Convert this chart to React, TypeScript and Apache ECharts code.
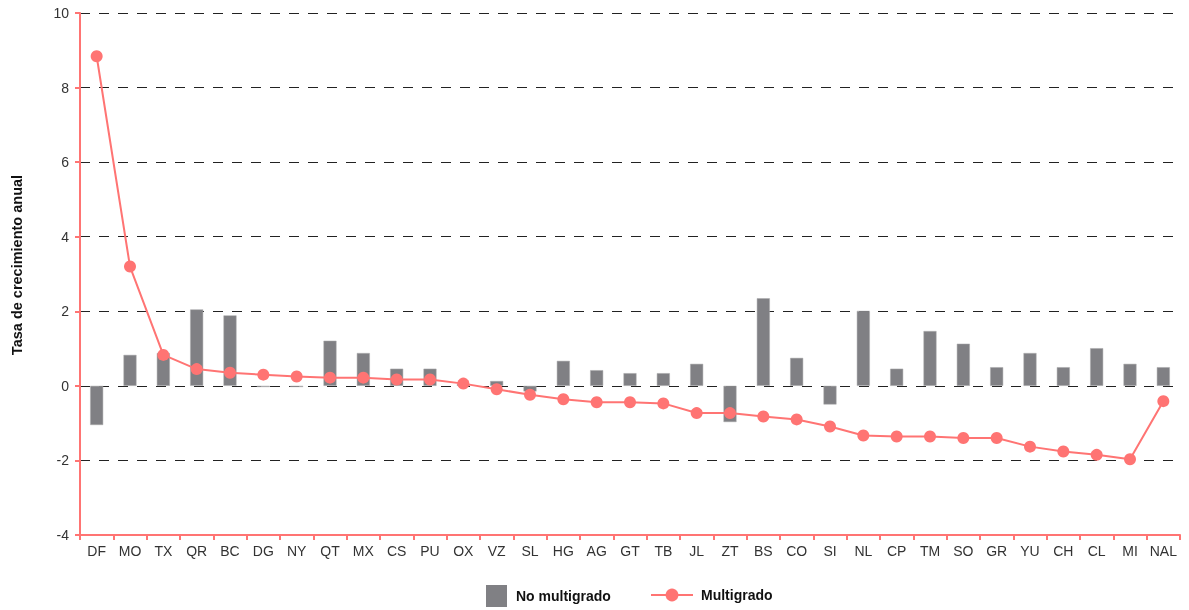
import React, { useEffect, useRef } from "react";
import * as echarts from "echarts";

const categories = ["DF","MO","TX","QR","BC","DG","NY","QT","MX","CS","PU","OX","VZ","SL","HG","AG","GT","TB","JL","ZT","BS","CO","SI","NL","CP","TM","SO","GR","YU","CH","CL","MI","NAL"];
const noMultigrado = [-1.05,0.83,0.88,2.05,1.89,-0.03,-0.03,1.21,0.88,0.46,0.46,0.05,0.13,-0.15,0.67,0.42,0.34,0.34,0.59,-0.97,2.35,0.75,-0.5,2.01,0.46,1.47,1.13,0.5,0.88,0.5,1.01,0.59,0.5];
const multigrado = [8.84,3.2,0.83,0.45,0.35,0.3,0.25,0.22,0.22,0.17,0.17,0.06,-0.09,-0.24,-0.36,-0.44,-0.44,-0.47,-0.73,-0.73,-0.82,-0.9,-1.09,-1.33,-1.36,-1.36,-1.4,-1.4,-1.63,-1.76,-1.85,-1.97,-0.41];
const yTicks = { min: -4, max: 10, interval: 2 };

const RED = "#ff7473";
const GRAY = "#808084";
const FONT = "'Liberation Sans', Arial, sans-serif";

export default function App() {
  const ref = useRef<HTMLDivElement>(null);
  useEffect(() => {
    if (!ref.current) return;
    const chart = echarts.init(ref.current, undefined, { renderer: "svg" });
    const legendText = { fontFamily: FONT, fontSize: 14, fontWeight: "bold", color: "#111" };
    chart.setOption({
      animation: false,
      textStyle: { fontFamily: FONT },
      grid: { left: 80, right: 9, top: 13, bottom: 75 },
      legend: [
        {
          data: [{ name: "No multigrado", icon: "rect", itemStyle: { borderWidth: 0, color: GRAY } }],
          left: 486,
          top: 585,
          padding: 0,
          itemWidth: 21,
          itemHeight: 22,
          itemGap: 10,
          textStyle: { ...legendText, padding: [0, 0, 0, 4] },
        },
        {
          data: ["Multigrado"],
          left: 650,
          top: 588,
          padding: 0,
          itemWidth: 42,
          itemHeight: 16,
          textStyle: { ...legendText, padding: [1, 0, 0, 3] },
        },
      ],
      xAxis: {
        type: "category",
        data: categories,
        boundaryGap: true,
        axisLine: { onZero: false, lineStyle: { color: RED, width: 2 } },
        axisTick: { show: true, length: 5, lineStyle: { color: RED, width: 2 } },
        axisLabel: { color: "#333", fontSize: 14, margin: 9, interval: 0, fontFamily: FONT },
      },
      yAxis: {
        type: "value",
        min: yTicks.min,
        max: yTicks.max,
        interval: yTicks.interval,
        name: "Tasa de crecimiento anual",
        nameLocation: "middle",
        nameGap: 56,
        nameTextStyle: { fontFamily: FONT, fontSize: 14.5, fontWeight: "bold", color: "#111", padding: [0, 0, 0, 18] },
        axisLine: { show: true, lineStyle: { color: RED, width: 2 } },
        axisTick: { show: true, length: 5, lineStyle: { color: RED, width: 2 } },
        axisLabel: { color: "#333", fontSize: 14, margin: 11, fontFamily: FONT },
        splitLine: { show: true, lineStyle: { color: "#222", type: [10, 9], width: 1 } },
      },
      series: [
        {
          name: "No multigrado",
          type: "bar",
          data: noMultigrado,
          barWidth: "39%",
          itemStyle: { color: GRAY, borderColor: "#a8a8ab", borderWidth: 0.5 },
          z: 2,
        },
        {
          name: "Multigrado",
          type: "line",
          data: multigrado,
          symbol: "circle",
          symbolSize: 12,
          lineStyle: { color: RED, width: 2 },
          itemStyle: { color: RED },
          z: 3,
        },
      ],
    });
    return () => chart.dispose();
  }, []);
  return <div ref={ref} style={{ position: "fixed", left: 0, top: 0, width: 1189, height: 610 }} />;
}
